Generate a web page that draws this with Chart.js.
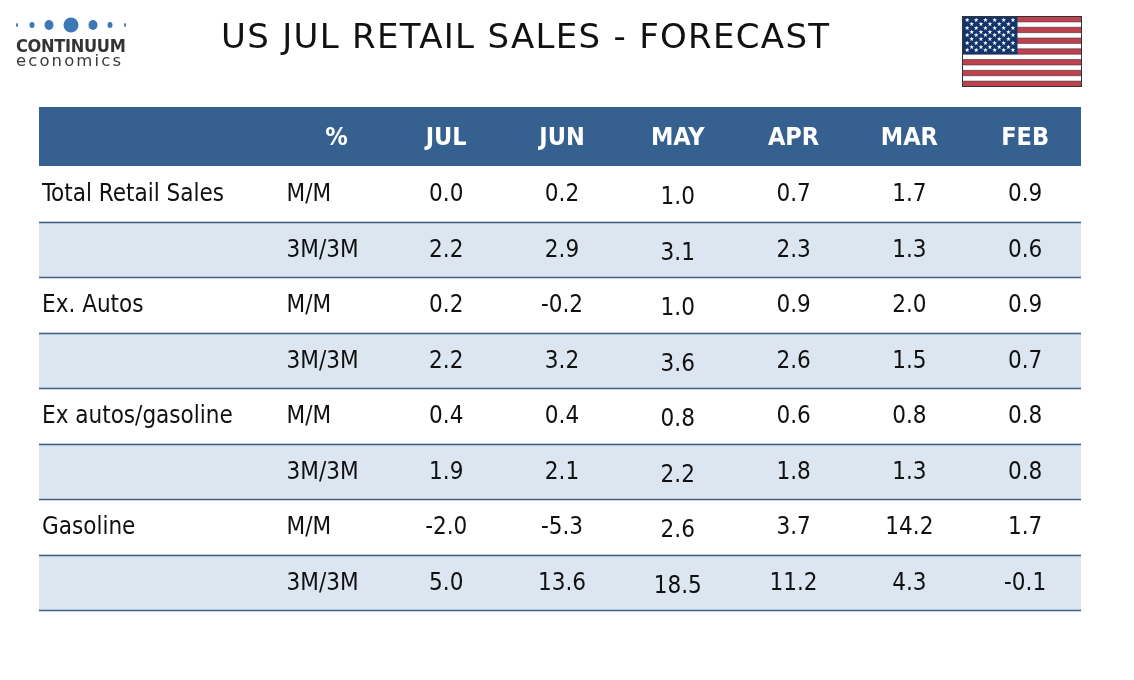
<!DOCTYPE html>
<html lang="en">
<head>
    <meta charset="UTF-8">
    <title>US JUL Retail Sales - Forecast</title>
    <style>
        html, body { margin: 0; padding: 0; background: #fff; }
        #page { position: relative; width: 1134px; height: 680px; overflow: hidden; }
        #myChart { position: absolute; left: 0; top: 0; }
        .title { position: absolute; left: 221px; top: 16px; font-family: "DejaVu Sans"; font-size: 34px; color: #111; white-space: nowrap; letter-spacing: 1.3px; }
        .logo { position: absolute; left: 14px; top: 12px; width: 120px; }
        .brand { position: absolute; left: 16px; top: 35px; font-family: "DejaVu Sans Condensed"; font-weight: bold; font-size: 18px; color: #333; letter-spacing: -0.3px; }
        .sub { position: absolute; left: 16px; top: 51px; font-family: "DejaVu Sans"; font-size: 16.5px; color: #3a3a3a; letter-spacing: 2.1px; }
        .flag { position: absolute; left: 962px; top: 16px; }
    </style>
</head>
<body>
<div id="page">
    <canvas id="myChart" width="1134" height="680"></canvas>
    <div class="title">US JUL RETAIL SALES - FORECAST</div>
    <svg class="logo" width="120" height="24" viewBox="0 0 120 24">
        <g fill="#3b78b5">
            <ellipse cx="3" cy="13" rx="1" ry="2"/>
            <ellipse cx="18" cy="13" rx="2.5" ry="3"/>
            <ellipse cx="35" cy="13" rx="4.5" ry="5"/>
            <ellipse cx="57" cy="13" rx="7.5" ry="7.5"/>
            <ellipse cx="79" cy="13" rx="4.5" ry="5"/>
            <ellipse cx="96" cy="13" rx="2.5" ry="3"/>
            <ellipse cx="111" cy="13" rx="1" ry="2"/>
        </g>
    </svg>
    <div class="brand">CONTINUUM</div>
    <div class="sub">economics</div>
    <svg class="flag" id="flag" width="120" height="71" viewBox="0 0 120 71"></svg>
</div>

<script src="https://cdn.jsdelivr.net/npm/chart.js"></script>
<script>
    // Table content
    const months = ["JUL", "JUN", "MAY", "APR", "MAR", "FEB"];
    const unitLabel = "%";
    const seriesNames = ["Total Retail Sales", "Ex. Autos", "Ex autos/gasoline", "Gasoline"];
    const measures = ["M/M", "3M/3M"];

    const totalMM = [0.0, 0.2, 1.0, 0.7, 1.7, 0.9];
    const total3M = [2.2, 2.9, 3.1, 2.3, 1.3, 0.6];
    const exAutosMM = [0.2, -0.2, 1.0, 0.9, 2.0, 0.9];
    const exAutos3M = [2.2, 3.2, 3.6, 2.6, 1.5, 0.7];
    const exAutosGasMM = [0.4, 0.4, 0.8, 0.6, 0.8, 0.8];
    const exAutosGas3M = [1.9, 2.1, 2.2, 1.8, 1.3, 0.8];
    const gasolineMM = [-2.0, -5.3, 2.6, 3.7, 14.2, 1.7];
    const gasoline3M = [5.0, 13.6, 18.5, 11.2, 4.3, -0.1];

    const rowValues = [totalMM, total3M, exAutosMM, exAutos3M, exAutosGasMM, exAutosGas3M, gasolineMM, gasoline3M];

    // Build row list: header + one row per series/measure
    const rows = [{ key: "header" }];
    seriesNames.forEach((name, s) => {
        measures.forEach((m, k) => {
            rows.push({ key: name + " " + m, name: k === 0 ? name : "", measure: m, values: rowValues[s * 2 + k] });
        });
    });

    // 9 equal columns: name takes 2, unit 1, months 6
    const nCols = 9;
    const headerBlue = "#36608f";
    const lightRow = "#dce6f1";

    const rowColors = rows.map((r, i) => i === 0 ? headerBlue : (r.measure === "3M/3M" ? lightRow : "#ffffff"));

    const tableText = {
        id: "tableText",
        beforeDatasetsDraw(chart) {
            // header band is a little taller than body rows
            const { ctx, scales: { x, y } } = chart;
            ctx.save();
            ctx.fillStyle = headerBlue;
            ctx.fillRect(x.left, y.top - 4, x.right - x.left, 5);
            ctx.restore();
        },
        afterDatasetsDraw(chart) {
            const { ctx, scales: { x, y } } = chart;
            const rowH = y.getPixelForValue(1) - y.getPixelForValue(0);
            const colX = c => x.getPixelForValue(c + 0.5);
            ctx.save();
            ctx.textBaseline = "middle";

            // row separators
            ctx.strokeStyle = "#3f5f86";
            ctx.lineWidth = 1.3;
            for (let i = 1; i < rows.length; i++) {
                const yb = Math.round(y.getPixelForValue(i) + rowH / 2) + 0.5;
                ctx.beginPath();
                ctx.moveTo(x.left, yb);
                ctx.lineTo(x.right, yb);
                ctx.stroke();
            }

            // header
            const hy = y.getPixelForValue(0);
            ctx.fillStyle = "#ffffff";
            ctx.font = "bold 25px 'DejaVu Sans Condensed'";
            ctx.textAlign = "center";
            ctx.fillText(unitLabel, colX(2) + 8, hy);
            months.forEach((m, j) => ctx.fillText(m, colX(3 + j) + 2, hy));

            // body
            ctx.fillStyle = "#111111";
            ctx.font = "24px 'DejaVu Sans Condensed'";
            rows.forEach((r, i) => {
                if (i === 0) return;
                const cy = y.getPixelForValue(i) + 1;
                ctx.textAlign = "left";
                if (r.name) ctx.fillText(r.name, x.left + 3, cy);
                ctx.fillText(r.measure, x.getPixelForValue(2) + 16, cy);
                ctx.textAlign = "center";
                r.values.forEach((v, j) => {
                    const dy = months[j] === "MAY" ? 3 : 0;
                    ctx.fillText(v.toFixed(1), colX(3 + j) + 2, cy + dy);
                });
            });
            ctx.restore();
        }
    };

    new Chart(document.getElementById("myChart"), {
        type: "bar",
        data: {
            labels: rows.map(r => r.key),
            datasets: [{
                data: rows.map(() => [0, nCols]),
                backgroundColor: rowColors,
                borderWidth: 0,
                barPercentage: 1,
                categoryPercentage: 1
            }]
        },
        options: {
            indexAxis: "y",
            responsive: false,
            animation: false,
            layout: { padding: { left: 39, right: 53, top: 111, bottom: 70 } },
            scales: {
                x: { type: "linear", min: 0, max: nCols, display: false },
                y: { display: false, offset: true }
            },
            plugins: { legend: { display: false }, tooltip: { enabled: false } }
        },
        plugins: [tableText]
    });

    // US flag
    const flag = document.getElementById("flag");
    const ns = "http://www.w3.org/2000/svg";
    const W = 119, H = 70, stripeH = H / 13;
    function add(tag, attrs) {
        const el = document.createElementNS(ns, tag);
        for (const k in attrs) el.setAttribute(k, attrs[k]);
        flag.appendChild(el);
        return el;
    }
    add("rect", { x: 0.5, y: 0.5, width: W, height: H, fill: "#ffffff" });
    for (let i = 0; i < 13; i += 2) {
        add("rect", { x: 0.5, y: 0.5 + i * stripeH, width: W, height: stripeH, fill: "#c0414e" });
    }
    for (let i = 1; i < 13; i++) {
        add("line", { x1: 0.5, x2: W + 0.5, y1: 0.5 + i * stripeH, y2: 0.5 + i * stripeH, stroke: "#3a2a2e", "stroke-width": 0.6 });
    }
    const cw = 55, ch = stripeH * 7;
    add("rect", { x: 0.5, y: 0.5, width: cw, height: ch, fill: "#13346b" });
    for (let r = 0; r < 9; r++) {
        const n = r % 2 === 0 ? 6 : 5;
        for (let c = 0; c < n; c++) {
            const sx = 0.5 + cw / 12 * (r % 2 === 0 ? 2 * c + 1 : 2 * c + 2);
            const sy = 0.5 + ch / 10 * (r + 1);
            const star = add("text", { x: sx, y: sy + 2, "font-size": 6, fill: "#ffffff", "text-anchor": "middle", "font-family": "DejaVu Sans" });
            star.textContent = "\u2605";
        }
    }
    add("rect", { x: 0.5, y: 0.5, width: W, height: H, fill: "none", stroke: "#333", "stroke-width": 1 });
</script>
</body>
</html>
